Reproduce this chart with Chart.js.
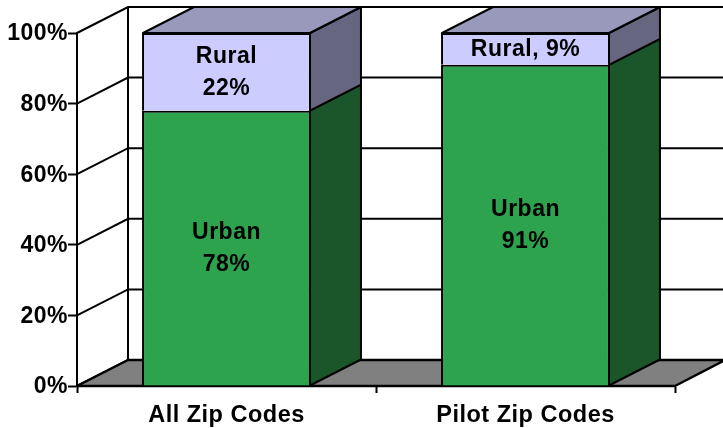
<!DOCTYPE html>
<html><head><meta charset="utf-8">
<style>html,body{margin:0;padding:0;background:#fff}#w{width:723px;height:428px}</style>
<script src="https://cdn.jsdelivr.net/npm/chart.js@4"></script></head>
<body><div id="w"><canvas id="c"></canvas></div>
<script>
const categories = ["All Zip Codes", "Pilot Zip Codes"];
const urbanValues = [78, 91];
const ruralValues = [22, 9];
const tickValues = [0, 20, 40, 60, 80, 100];
const urbanLabels = [["Urban", "78%"], ["Urban", "91%"]];
const ruralLabels = [["Rural", "22%"], ["Rural, 9%"]];

const DX = 50, DY = -26;
const FONT = 'bold 23px "Liberation Sans", Arial, sans-serif';

function poly(ctx, pts, fill, lw) {
  ctx.beginPath();
  pts.forEach((p, i) => i ? ctx.lineTo(p[0], p[1]) : ctx.moveTo(p[0], p[1]));
  ctx.closePath();
  if (fill) { ctx.fillStyle = fill; ctx.fill(); }
  ctx.lineWidth = lw; ctx.strokeStyle = '#000'; ctx.lineJoin = 'round'; ctx.stroke();
}
const box3d = {
  id: 'box3d',
  beforeDraw(chart) { chart.ctx.letterSpacing = '0.5px'; },
  beforeDatasetsDraw(chart) {
    const ctx = chart.ctx, y = chart.scales.y, x = chart.scales.x;
    const L = x.left, R = x.right, B = y.getPixelForValue(0);
    ctx.save();
    ctx.strokeStyle = '#000';
    ctx.lineWidth = 2;
    tickValues.forEach(v => {
      const p = y.getPixelForValue(v);
      ctx.beginPath();
      ctx.moveTo(L, p); ctx.lineTo(L + DX + 1, p + DY); ctx.lineTo(R + DX, p + DY);
      ctx.stroke();
    });
    ctx.beginPath();
    ctx.moveTo(L + DX + 1, y.getPixelForValue(100) + DY);
    ctx.lineTo(L + DX + 1, B + DY);
    ctx.stroke();
    poly(ctx, [[L, B], [L + DX + 1, B + DY], [R + DX, B + DY], [R, B]], '#808080', 2.5);
    const m0 = chart.getDatasetMeta(0).data, m1 = chart.getDatasetMeta(1).data;
    [m0, m1].forEach((els, k) => {
      const col = k === 0 ? '#1A562A' : '#666680';
      els.forEach(b => {
        const r = b.x + b.width / 2 - 1;
        poly(ctx, [[r, b.y], [r + DX + 1, b.y + DY], [r + DX + 1, b.base + DY], [r, b.base]], col, 2);
      });
    });
    m1.forEach(b => {
      const l = b.x - b.width / 2 + 1, r = b.x + b.width / 2 - 1;
      poly(ctx, [[l, b.y], [l + DX + 1, b.y + DY], [r + DX + 1, b.y + DY], [r, b.y]], '#9999BB', 2);
    });
    ctx.restore();
  },
  afterDatasetsDraw(chart) {
    const ctx = chart.ctx;
    ctx.save();
    ctx.font = FONT; ctx.fillStyle = '#000';
    ctx.textAlign = 'center'; ctx.textBaseline = 'middle';
    ctx.letterSpacing = '0.5px';
    const lh = 32;
    [[0, urbanLabels], [1, ruralLabels]].forEach(([d, texts]) => {
      chart.getDatasetMeta(d).data.forEach((b, i) => {
        const lines = texts[i];
        const c = (b.y + b.base) / 2 + 1;
        lines.forEach((t, j) => ctx.fillText(t, b.x, c + (j - (lines.length - 1) / 2) * lh));
      });
    });
    ctx.restore();
  }
};

new Chart(document.getElementById('c'), {
  type: 'bar',
  data: {
    labels: categories,
    datasets: [
      { label: 'Urban', data: urbanValues, backgroundColor: '#2EA34E', borderColor: '#000', borderWidth: 2 },
      { label: 'Rural', data: ruralValues, backgroundColor: '#CCCCFF', borderColor: '#000', borderWidth: 2 }
    ]
  },
  options: {
    responsive: true, maintainAspectRatio: false, animation: false,
    devicePixelRatio: 1,
    layout: { padding: { top: 33, right: 48, left: 0, bottom: 0 } },
    plugins: { legend: { display: false }, tooltip: { enabled: false }, title: { display: false } },
    datasets: { bar: { categoryPercentage: 1, barPercentage: 0.565 } },
    scales: {
      x: {
        stacked: true,
        afterFit(s) { s.height = 42; },
        border: { display: true, color: '#000', width: 2 },
        grid: { display: true, drawOnChartArea: false, drawTicks: true, tickLength: 7, tickWidth: 2, tickColor: '#000', color: '#000' },
        ticks: { color: '#000', font: { family: '"Liberation Sans", Arial, sans-serif', size: 23.5, weight: 'bold' }, padding: 8, maxRotation: 0 }
      },
      y: {
        stacked: true, min: 0, max: 100,
        afterFit(s) { s.width = 77; },
        afterBuildTicks(s) { s.ticks = tickValues.map(v => ({ value: v })); },
        border: { display: true, color: '#000', width: 2 },
        grid: { display: true, drawOnChartArea: false, drawTicks: true, tickLength: 9, tickWidth: 2, tickColor: '#000', color: '#000' },
        ticks: { color: '#000', font: { family: '"Liberation Sans", Arial, sans-serif', size: 23, weight: 'bold' }, padding: 0, labelOffset: 1, callback: v => v + '%' }
      }
    }
  },
  plugins: [box3d]
});
</script></body></html>
